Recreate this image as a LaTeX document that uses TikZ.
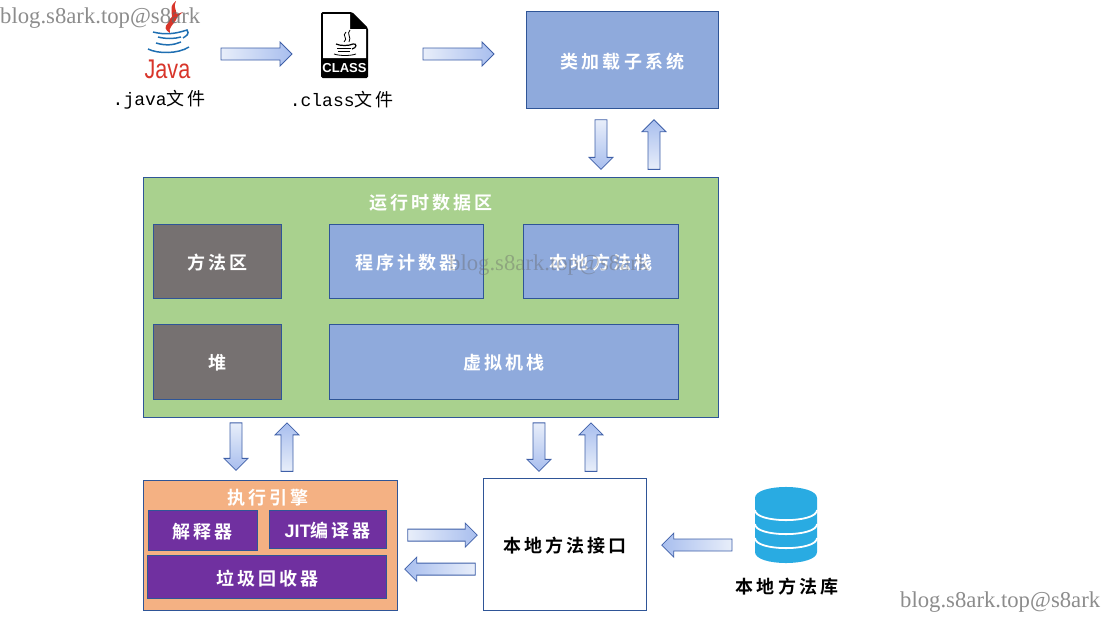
\documentclass[tikz,border=0pt]{standalone}
\usepackage{fontspec}
\setmainfont{Liberation Serif}
\newfontfamily\cjkfont[LetterSpace=14]{Noto Sans CJK SC}
\newfontfamily\cjkbold[LetterSpace=17]{Noto Sans CJK SC Bold}
\newfontfamily\latinmono{Liberation Mono}
\newfontfamily\latinsans{Liberation Sans}
\usetikzlibrary{calc,positioning}

\definecolor{boxline}{HTML}{2F5597}
\definecolor{arrowline}{HTML}{3F60A8}
\definecolor{arrowlight}{HTML}{E8EEFA}
\definecolor{arrowdark}{HTML}{A8BEEE}
\definecolor{bluebox}{HTML}{8FAADC}
\definecolor{greenbox}{HTML}{A9D18E}
\definecolor{graybox}{HTML}{767171}
\definecolor{orangebox}{HTML}{F4B183}
\definecolor{purplebox}{HTML}{7030A0}
\definecolor{dbblue}{HTML}{29ABE2}
\definecolor{javared}{HTML}{D8352A}
\definecolor{javablue}{HTML}{1F6FB2}

\tikzset{
    box/.style={draw=boxline, line width=0.8pt, inner sep=0pt, text=white, text height=16pt, text depth=0pt,
        font=\cjkbold\fontsize{18}{18}\selectfont},
    bluepart/.style={box, fill=bluebox},
    graypart/.style={box, fill=graybox},
    purplepart/.style={box, fill=purplebox},
    title/.style={inner sep=0pt, text=white, text height=16pt, text depth=0pt, font=\cjkbold\fontsize{18}{18}\selectfont},
    filelabel/.style={inner sep=0pt, text=black, font=\fontsize{18}{18}\selectfont},
    watermark/.style={inner sep=0pt, anchor=west, text=black!60, opacity=0.75,
        font=\fontsize{22.7}{22.7}\selectfont},
    toright/.style={left color=arrowlight, right color=arrowdark},
    toleft/.style={left color=arrowdark, right color=arrowlight},
    todown/.style={top color=arrowlight, bottom color=arrowdark},
    toup/.style={top color=arrowdark, bottom color=arrowlight},
}

% shaft 12 wide, head 24 wide and 12 long
\newcommand{\blockarrow}[3]{%
    \coordinate (h) at ($(#2)!12pt!(#1)$);
    \draw[arrowline, line width=0.8pt, #3]
        ($(#1)!6pt!90:(#2)$) -- ($(h)!6pt!-90:(#1)$) -- ($(h)!12pt!-90:(#1)$) -- (#2)
        -- ($(h)!12pt!90:(#1)$) -- ($(h)!6pt!90:(#1)$) -- ($(#1)!6pt!-90:(#2)$) -- cycle;
}

\begin{document}
\begin{tikzpicture}[x=1pt,y=-1pt]
    \useasboundingbox (0,0) rectangle (1103,616);

    % top row
    \node[box, fill=bluebox, minimum width=191.7pt, minimum height=96.7pt] (loader) at (622.5,60) {类加载子系统};
    \node[filelabel] (javalabel) at (159,99.5) {{\latinmono .java}\cjkfont 文件};
    \node[filelabel] (classlabel) at (341.5,99.5) {{\latinmono .class}\cjkfont 文件};

    % java logo
    \fill[javared] (176,1) .. controls (165,10) and (178,14) .. (168,23) .. controls (164,27) and (165,30) .. (170,33)
        .. controls (168,28) and (173,25) .. (176,20) .. controls (180,13) and (172,10) .. (176,1) -- cycle;
    \fill[javared] (183,12) .. controls (171,16) and (166,20) .. (170,26) .. controls (171,22) and (176,18) .. (183,12) -- cycle;
    \draw[javablue, line width=1.5pt] (153,32) .. controls (165,35) and (175,34) .. (187,30)
        .. controls (190,34) and (186,36) .. (183,38);
    \draw[javablue, line width=1.5pt] (158,37) .. controls (166,39) and (174,39) .. (181,37);
    \draw[javablue, line width=1.5pt] (156,43) .. controls (166,46) and (174,45) .. (181,42);
    \draw[javablue, line width=1.5pt] (148,49) .. controls (158,54) and (178,54) .. (189,47);
    \node[inner sep=0pt, xscale=0.8, text=javared, font=\latinsans\fontsize{27}{27}\selectfont] (javaword) at (167.5,69) {Java};

    % class icon
    \fill[black, rounded corners=1.5pt] (321,12) -- (352,12) -- (368,28) -- (368,78) -- (321,78) -- cycle;
    \fill[white] (323,14) -- (350,14) -- (350,29) -- (366,29) -- (366,58) -- (323,58) -- cycle;
    \draw[black, line width=0.8pt] (346,32) .. controls (341,36) and (349,38) .. (344,42);
    \draw[black, line width=0.8pt] (350,30) .. controls (346,34) and (352,37) .. (349,42);
    \draw[black, line width=1.2pt] (336,44) .. controls (340,46) and (349,46) .. (353,44)
        .. controls (357,43) and (357,48) .. (352,49);
    \draw[black, line width=1pt] (337,48) -- (351,48) (338,51) -- (350,51);
    \draw[black, line width=0.8pt] (334,54) .. controls (340,56) and (350,56) .. (356,54);
    \node[inner sep=0pt, text=white, font=\latinsans\bfseries\fontsize{13}{13}\selectfont] (classword) at (344.5,68) {CLASS};

    % runtime data area
    \node[box, fill=greenbox, minimum width=574.7pt, minimum height=239.7pt] (runtime) at (431,297.6) {};
    \node[title] (runtimetitle) at (431,201) {运行时数据区};
    \node[graypart, minimum width=127.7pt, minimum height=73.7pt] (method) at (217.5,261.6) {方法区};
    \node[graypart, minimum width=127.7pt, minimum height=74.7pt] (heap) at (217.5,361.6) {堆};
    \node[bluepart, minimum width=153.7pt, minimum height=73.7pt] (counter) at (406.5,261.6) {程序计数器};
    \node[bluepart, minimum width=154.7pt, minimum height=73.7pt] (nativestack) at (601,261.6) {本地方法栈};
    \node[bluepart, minimum width=348.7pt, minimum height=74.7pt] (vmstack) at (504,361.6) {虚拟机栈};

    % execution engine
    \node[box, fill=orangebox, minimum width=253.7pt, minimum height=129.7pt] (engine) at (270.5,545.6) {};
    \node[title] (enginetitle) at (268,496) {执行引擎};
    \node[purplepart, minimum width=109.7pt, minimum height=39.7pt] (interpreter) at (202.8,530.6) {解释器};
    \node[purplepart, minimum width=117.7pt, minimum height=37.7pt] (jit) at (327.8,529.6) {{\latinsans\bfseries JIT}编译器};
    \node[purplepart, minimum width=238.7pt, minimum height=42.7pt] (gc) at (267.2,577.2) {垃圾回收器};

    % native side
    \node[box, fill=white, text=black, minimum width=162.7pt, minimum height=131.7pt] (nativeapi) at (565,544.6) {本地方法接口};
    \path[fill=dbblue] (755,498) -- (755,552) .. controls (755,566.7) and (817,566.7) .. (817,552) -- (817,498)
        .. controls (817,483.3) and (755,483.3) .. (755,498) -- cycle;
    \foreach \y in {510,524,538}
        \draw[white, line width=1.8pt] (755,\y) .. controls (755,\y+13.5) and (817,\y+13.5) .. (817,\y);
    \node[inner sep=0pt, text height=16pt, text depth=0pt, font=\cjkbold\fontsize{18}{18}\selectfont] (nativelib) at (787,585) {本地方法库};

    % free ends of the arrows
    \coordinate (javaout) at (221,54);
    \coordinate (classin) at (292,54);
    \coordinate (classout) at (423,54);
    \coordinate (loaderin) at (494,54);
    \coordinate (loaderdownA) at ($(loader.south)+(-21.5,11)$);
    \coordinate (loaderdownB) at ($(runtime.north)+(170,-8)$);
    \coordinate (loaderupA) at ($(runtime.north)+(223,-8)$);
    \coordinate (loaderupB) at ($(loader.south)+(31.5,11)$);
    \coordinate (enginedownA) at ($(runtime.south)+(-195,5)$);
    \coordinate (enginedownB) at ($(engine.north)+(-34.5,-10)$);
    \coordinate (engineupA) at ($(engine.north)+(16.5,-9)$);
    \coordinate (engineupB) at ($(runtime.south)+(-144,5)$);
    \coordinate (apidownA) at ($(runtime.south)+(108,5)$);
    \coordinate (apidownB) at ($(nativeapi.north)+(-26,-7)$);
    \coordinate (apiupA) at ($(nativeapi.north)+(26,-7)$);
    \coordinate (apiupB) at ($(runtime.south)+(160,5)$);
    \coordinate (engineoutA) at ($(engine.east)+(10,-10.5)$);
    \coordinate (engineoutB) at ($(nativeapi.west)+(-6,-9.5)$);
    \coordinate (engineinA) at ($(nativeapi.west)+(-8,24.5)$);
    \coordinate (engineinB) at ($(engine.east)+(7,23.5)$);
    \coordinate (libA) at (732,545);
    \coordinate (libB) at ($(nativeapi.east)+(15,0.5)$);

    \blockarrow{javaout}{classin}{toright}
    \blockarrow{classout}{loaderin}{toright}
    \blockarrow{loaderdownA}{loaderdownB}{todown}
    \blockarrow{loaderupA}{loaderupB}{toup}
    \blockarrow{enginedownA}{enginedownB}{todown}
    \blockarrow{engineupA}{engineupB}{toup}
    \blockarrow{apidownA}{apidownB}{todown}
    \blockarrow{apiupA}{apiupB}{toup}
    \blockarrow{engineoutA}{engineoutB}{toright}
    \blockarrow{engineinA}{engineinB}{toleft}
    \blockarrow{libA}{libB}{toleft}

    % watermarks
    \node[watermark] (marktop) at (0,18) {blog.s8ark.top@s8ark};
    \node[watermark, opacity=0.4] (markmid) at (449,265) {blog.s8ark.top@s8ark};
    \node[watermark] (markbottom) at (900,602) {blog.s8ark.top@s8ark};
\end{tikzpicture}
\end{document}
